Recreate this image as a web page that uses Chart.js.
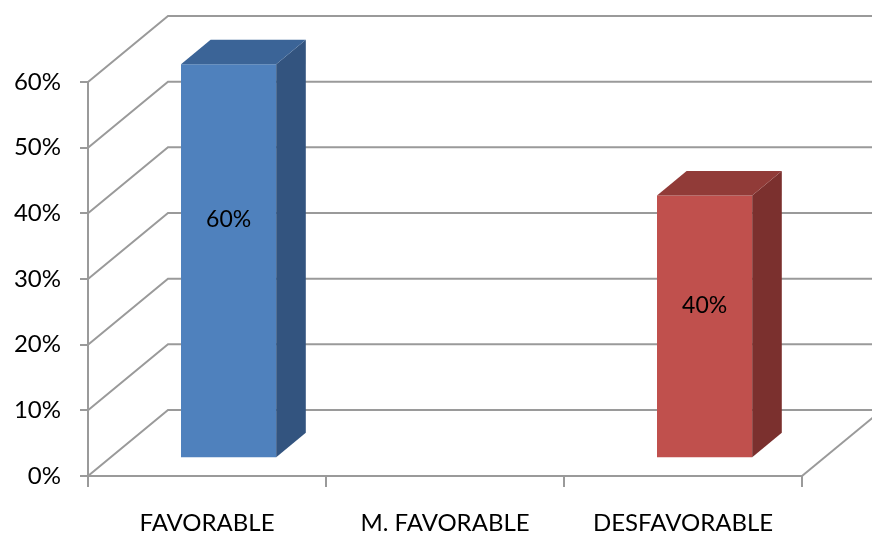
<!DOCTYPE html>
<html><head><meta charset="utf-8">
<script src="https://cdn.jsdelivr.net/npm/chart.js@4/dist/chart.umd.min.js"></script>
<style>html,body{margin:0;padding:0;background:#fff}</style>
</head><body>
<canvas id="c" width="872" height="535"></canvas>
<script>
// ---- data ----
const categories = ['FAVORABLE', 'M. FAVORABLE', 'DESFAVORABLE'];
const values = [0.60, null, 0.40];
const yTicks = [0, 0.1, 0.2, 0.3, 0.4, 0.5, 0.6];

// ---- styles ----
const frontColors = ['#4F81BD', '#4F81BD', '#C0504D'];
const sideColors  = ['#33547F', '#33547F', '#7B302E'];
const topColors   = ['#3B6497', '#3B6497', '#913B38'];
const GRID = '#9a9a9a';
const FONT = 'Lato';
const DX = 80, DY = 66;              // wall depth offset
const BAR_FRONT = 0.27, BAR_BACK = 0.64; // bar depth fractions
const LABEL_FRAC = 0.65;

const pct = v => Math.round(v * 100) + '%';

const threeD = {
  id: 'threeD',
  beforeDatasetsDraw(chart) {
    const { ctx, chartArea: a, scales: { y } } = chart;
    ctx.save();
    ctx.strokeStyle = GRID;
    ctx.lineWidth = 2;
    yTicks.forEach(v => {
      const py = y.getPixelForValue(v);
      ctx.beginPath();
      ctx.moveTo(a.left, py);
      ctx.lineTo(a.left + DX, py - DY);
      ctx.lineTo(chart.width, py - DY);
      ctx.stroke();
    });
    ctx.beginPath();
    ctx.moveTo(a.right, a.bottom);
    ctx.lineTo(a.right + DX, a.bottom - DY);
    ctx.stroke();
    ctx.restore();
    ctx.save();
    ctx.translate(DX * BAR_FRONT, -DY * BAR_FRONT);
  },
  afterDatasetsDraw(chart) {
    const { ctx, scales: { y } } = chart;
    ctx.restore();
    const fdx = DX * BAR_FRONT, fdy = -DY * BAR_FRONT;
    const bdx = DX * (BAR_BACK - BAR_FRONT), bdy = DY * (BAR_BACK - BAR_FRONT);
    const meta = chart.getDatasetMeta(0);
    meta.data.forEach((bar, i) => {
      if (values[i] == null) return;
      const p = bar.getProps(['x', 'y', 'base', 'width'], true);
      const L = p.x - p.width / 2 + fdx, R = p.x + p.width / 2 + fdx;
      const top = p.y + fdy, bot = p.base + fdy;
      ctx.save();
      ctx.fillStyle = sideColors[i];
      ctx.beginPath();
      ctx.moveTo(R, top); ctx.lineTo(R + bdx, top - bdy);
      ctx.lineTo(R + bdx, bot - bdy); ctx.lineTo(R, bot); ctx.closePath();
      ctx.fill();
      ctx.fillStyle = topColors[i];
      ctx.beginPath();
      ctx.moveTo(L, top); ctx.lineTo(R, top);
      ctx.lineTo(R + bdx, top - bdy); ctx.lineTo(L + bdx, top - bdy); ctx.closePath();
      ctx.fill();
      ctx.fillStyle = '#000';
      ctx.font = '23px ' + FONT;
      ctx.textAlign = 'center';
      ctx.textBaseline = 'middle';
      ctx.fillText(pct(values[i]), p.x + fdx, y.getPixelForValue(values[i] * LABEL_FRAC));
      ctx.restore();
    });
  }
};

new Chart(document.getElementById('c'), {
  type: 'bar',
  data: {
    labels: categories,
    datasets: [{
      data: values,
      backgroundColor: frontColors,
      borderWidth: 0,
      categoryPercentage: 1,
      barPercentage: 0.4,
      clip: false
    }]
  },
  options: {
    responsive: false,
    animation: false,
    devicePixelRatio: 1,
    layout: { padding: { top: 82, right: 70, left: 0, bottom: 0 } },
    plugins: { legend: { display: false }, tooltip: { enabled: false } },
    scales: {
      x: {
        grid: { drawOnChartArea: false, color: GRID, lineWidth: 2, tickLength: 11, offset: true },
        border: { display: true, color: GRID, width: 2 },
        ticks: { color: '#000', font: { family: FONT, size: 24 }, padding: 22, maxRotation: 0 },
        afterFit(s) { s.height = 59; }
      },
      y: {
        min: 0, max: 0.6,
        grid: { drawOnChartArea: false, color: GRID, lineWidth: 2, tickLength: 8 },
        border: { display: true, color: GRID, width: 2 },
        ticks: { stepSize: 0.1, color: '#000', font: { family: FONT, size: 24 }, padding: 19, callback: v => pct(v) },
        afterFit(s) { s.width = 88; }
      }
    }
  },
  plugins: [threeD]
});
</script>
</body></html>
